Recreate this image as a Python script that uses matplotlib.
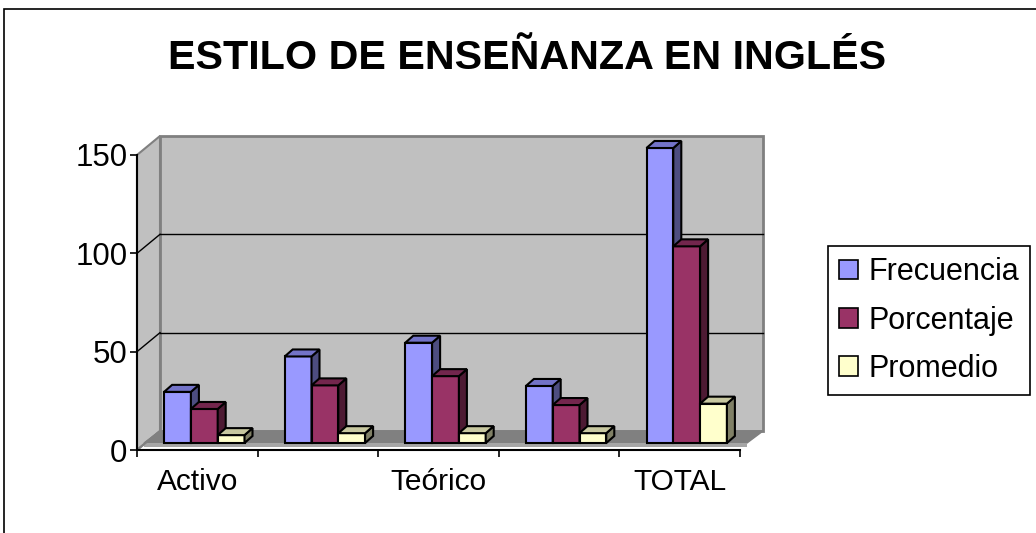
import matplotlib
matplotlib.use("Agg")
import matplotlib.pyplot as plt
from matplotlib.patches import Polygon, Rectangle, Patch
import numpy as np

plt.rcParams['font.family'] = ['Liberation Sans', 'DejaVu Sans']

# ---------------- data ----------------
title = "ESTILO DE ENSEÑANZA EN INGLÉS"
tick_labels = ["Activo", "", "Teórico", "", "TOTAL"]
series_names = ["Frecuencia", "Porcentaje", "Promedio"]
frecuencia = [26, 44, 51, 29, 150]
porcentaje = [17.3, 29.3, 34, 19.3, 100]
promedio = [4, 5, 5, 5, 20]
y_ticks = [0, 50, 100, 150]

# colours (front, top, side)
colors = {
    "Frecuencia": ("#9999FF", "#7373C8", "#4D4D80"),
    "Porcentaje": ("#993366", "#73264D", "#4D1A33"),
    "Promedio": ("#FFFFCC", "#C8C8A0", "#808066"),
}

W, H = 1036, 533
fig = plt.figure(figsize=(W / 100, H / 100), dpi=100)

# front plane of the axes (pixels)
x0p, x1p, y0p, y1p = 137, 740, 450, 155
ax = fig.add_axes([x0p / W, (H - y0p) / H, (x1p - x0p) / W, (y0p - y1p) / H])
n = len(tick_labels)
ax.set_xlim(0, n)
ax.set_ylim(0, 150)
ax.set_facecolor("none")

pxx = (x1p - x0p) / n          # pixels per x unit
pxy = (y0p - y1p) / 150.0      # pixels per y unit


def off(px, py):
    return px / pxx, py / pxy


# back wall offset
bdx, bdy = off(23, 19)

# left wall
lw_poly = Polygon([(0, 0), (0 + bdx, 0 + bdy), (0 + bdx, 150 + bdy), (0, 150)],
                  closed=True, facecolor="#C0C0C0", edgecolor="#808080", lw=1.5,
                  clip_on=False, zorder=1)
ax.add_patch(lw_poly)
# back wall
bw = Polygon([(bdx, bdy), (n + bdx, bdy), (n + bdx, 150 + bdy), (bdx, 150 + bdy)],
             closed=True, facecolor="#C0C0C0", edgecolor="#808080", lw=2,
             clip_on=False, zorder=1)
ax.add_patch(bw)
# gridlines on walls
for v in y_ticks[1:-1]:
    ax.plot([bdx, n + bdx], [v + bdy, v + bdy], color="black", lw=1, clip_on=False, zorder=2)
    ax.plot([0, bdx], [v, v + bdy], color="black", lw=1, clip_on=False, zorder=2)

# floor
fdx, fdy = off(7, 7)
floor = Polygon([(fdx, fdy), (n + fdx, fdy), (n + bdx, bdy), (bdx, bdy)],
                closed=True, facecolor="#808080", edgecolor="#808080", lw=1,
                clip_on=False, zorder=2)
ax.add_patch(floor)
ddx, ddy = off(7, 3)
band = Polygon([(ddx, ddy), (n + ddx, ddy), (n + fdx, fdy), (fdx, fdy)],
               closed=True, facecolor="#A6A6A6", edgecolor="none",
               clip_on=False, zorder=2)
ax.add_patch(band)
ax.plot([0, bdx], [0, bdy], color="#808080", lw=1.5, clip_on=False, zorder=2)

# bars
values = [frecuencia, porcentaje, promedio]
bw_u = 1 / 4.5
ox, oy = off(7, 7)       # front face offset
dx, dy = off(8, 7)       # bar depth
xs = np.arange(n) + 0.5
for i, (name, vals) in enumerate(zip(series_names, values)):
    front, top, side = colors[name]
    lefts = xs - 1.5 * bw_u + i * bw_u + ox
    bars = ax.bar(lefts, vals, width=bw_u, bottom=oy, align="edge",
                  color=front, edgecolor="black", lw=1.5, zorder=5 + i, clip_on=False)
    for b, v in zip(bars, vals):
        xl = b.get_x()
        xr = xl + bw_u
        yt = oy + v
        ax.add_patch(Polygon([(xr, oy), (xr + dx, oy + dy), (xr + dx, yt + dy), (xr, yt)],
                             closed=True, facecolor=side, edgecolor="black", lw=1.5,
                             zorder=5 + i, clip_on=False))
        ax.add_patch(Polygon([(xl, yt), (xr, yt), (xr + dx, yt + dy), (xl + dx, yt + dy)],
                             closed=True, facecolor=top, edgecolor="black", lw=1.5,
                             zorder=5 + i, clip_on=False))

# axes styling
for s in ["top", "right"]:
    ax.spines[s].set_visible(False)
ax.spines["left"].set_color("black")
ax.spines["bottom"].set_color("black")
ax.spines["left"].set_linewidth(1.5)
ax.spines["bottom"].set_linewidth(1.5)
ax.spines["left"].set_zorder(3)
ax.spines["bottom"].set_zorder(3)

ax.set_yticks(y_ticks)
ax.set_yticklabels([str(t) for t in y_ticks], fontsize=22.5)
ax.tick_params(axis="y", direction="out", length=5, width=1.2, pad=2)

ax.set_xticks(np.arange(n + 1))
ax.set_xticklabels([])
ax.set_xticks(xs, minor=True)
ax.set_xticklabels(tick_labels, minor=True, fontsize=21.5)
ax.tick_params(axis="x", which="major", direction="out", length=5, width=1.2)
ax.tick_params(axis="x", which="minor", length=0, pad=13)

# title
fig.text(527 / W, 1 - 58 / H, title, fontsize=29.7, fontweight="bold",
         ha="center", va="center")

# legend
handles = [Patch(facecolor=colors[nm][0], edgecolor="black", lw=1.2) for nm in series_names]
leg = fig.legend(handles, series_names, loc="upper left",
                 bbox_to_anchor=(828 / W, 1 - 246 / H), fontsize=22,
                 frameon=True, fancybox=False, edgecolor="black", framealpha=1,
                 handlelength=0.6, handleheight=0.6, handletextpad=0.35,
                 labelspacing=0.6, borderpad=0.37, borderaxespad=0)
leg.get_frame().set_linewidth(1.2)

# outer chart border
fig.add_artist(Rectangle((4 / W, -0.1), 1.2, 1 - 9 / H + 0.1, transform=fig.transFigure,
                         facecolor="none", edgecolor="black", lw=1.2))

fig.savefig("out.png", dpi=100)
